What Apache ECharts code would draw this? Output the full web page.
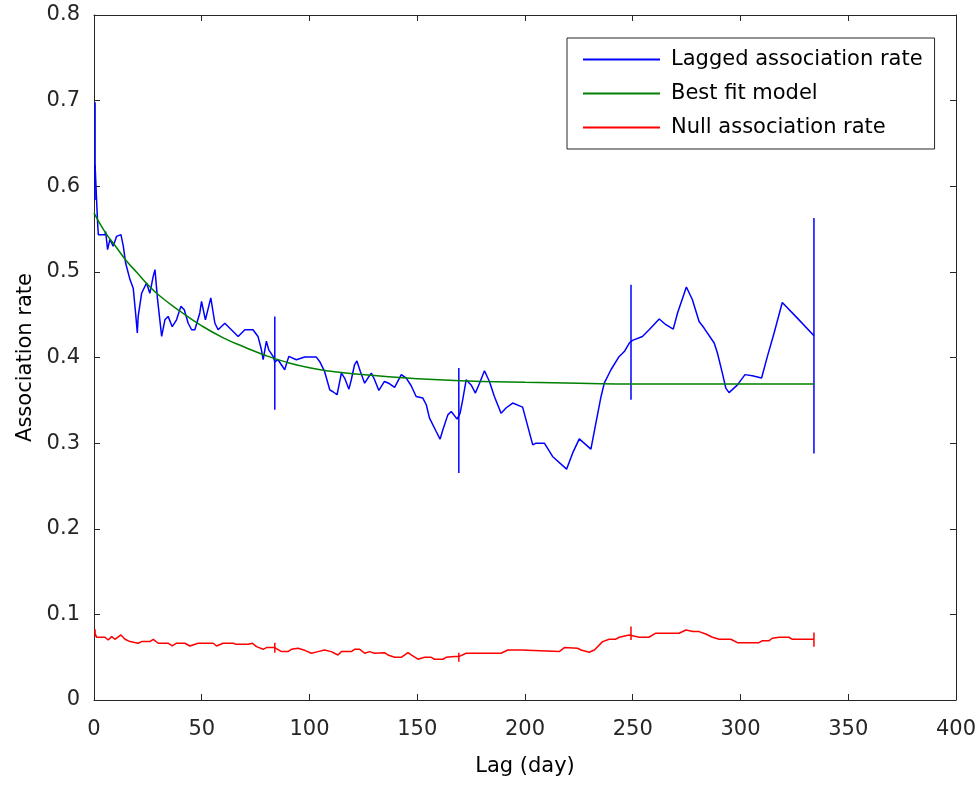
<!DOCTYPE html>
<html>
<head>
<meta charset="utf-8">
<script src="https://cdn.jsdelivr.net/npm/echarts@6/dist/echarts.min.js"></script>
<style>
html,body{margin:0;padding:0;background:#fff;}
#chart{width:979px;height:786px;}
</style>
</head>
<body>
<div id="chart"></div>
<script>
// Lagged association rate (blue)
const lagLags = [0.5,1.2,1.6,2.0,5.1,5.4,6.3,7.4,8.9,10.5,12.5,13.6,14.7,16.7,18.2,19.3,20.1,20.5,22.1,24.4,25.9,27.5,28.3,29.5,31.4,32.9,34.4,36.3,38.3,40.3,41.9,43.7,45.3,46.8,49.1,49.9,51.7,53.8,54.2,56.1,57.6,60.7,66.9,70.0,73.8,76.1,77.7,78.5,80.0,81.1,83.1,83.9,85.4,88.5,90.4,93.9,97.8,103.2,104.7,107.0,109.4,110.9,112.8,114.8,116.3,118.3,119.4,120.9,122.0,123.6,125.6,127.1,128.7,130.2,132.2,134.8,137.2,139.5,142.6,144.9,147.2,149.5,152.6,154.2,155.7,158.8,160.6,161.9,164.2,165.8,168.5,169.3,169.9,171.1,172.7,175.0,177.0,178.9,181.2,183.5,185.8,188.9,191.2,194.3,198.9,201.3,203.6,205.1,209.0,212.8,219.3,222.1,225.2,230.6,232.9,235.3,236.8,239.9,243.5,246.1,248.4,249.9,254.5,257.6,262.3,265.4,268.8,270.8,274.9,277.7,280.8,283.1,287.8,289.3,291.6,293.2,294.7,298.6,302.1,305.5,309.8,312.5,315.6,319.4,326.4,334.1];
const lagRates = [0.625,0.584,0.561,0.5435,0.5435,0.547,0.526,0.538,0.530,0.5415,0.5435,0.530,0.510,0.491,0.481,0.452,0.4286,0.448,0.475,0.487,0.475,0.495,0.5026,0.4675,0.4246,0.444,0.448,0.436,0.444,0.4597,0.4558,0.440,0.4324,0.4324,0.452,0.4655,0.444,0.4655,0.4695,0.440,0.4324,0.440,0.4246,0.4324,0.4324,0.4246,0.409,0.3974,0.419,0.409,0.4013,0.395,0.3974,0.3857,0.4013,0.3974,0.4005,0.4005,0.3954,0.3837,0.3623,0.360,0.3565,0.3818,0.376,0.363,0.374,0.3915,0.396,0.3837,0.370,0.376,0.3818,0.374,0.3615,0.372,0.3693,0.365,0.3799,0.376,0.367,0.3545,0.3526,0.3448,0.3292,0.3136,0.3047,0.3156,0.333,0.337,0.328,0.330,0.335,0.3506,0.374,0.368,0.3585,0.370,0.3845,0.372,0.3545,0.335,0.341,0.3468,0.342,0.3195,0.298,0.300,0.300,0.2844,0.2696,0.2883,0.305,0.293,0.3234,0.3545,0.370,0.3857,0.4005,0.407,0.4169,0.420,0.4246,0.4324,0.445,0.4383,0.4332,0.452,0.4823,0.4675,0.442,0.4344,0.4169,0.4052,0.3818,0.3643,0.359,0.368,0.380,0.3787,0.376,0.4013,0.4286,0.4643,0.446,0.4254];

// Best fit model (green)
const fitLags = [0,5,10,15,20,25,30,40,50,60,70,80,90,100,110,120,140,160,180,200,225,250,300,334.1];
const fitRates = [0.569,0.547,0.530,0.513,0.499,0.485,0.473,0.454,0.437,0.423,0.412,0.402,0.394,0.388,0.384,0.381,0.377,0.374,0.372,0.371,0.370,0.369,0.369,0.369];

// Null association rate (red)
const nullLags = [0.5,1.2,5.1,6.6,8.2,9.7,12.5,14.4,16.7,20.5,22.1,25.9,27.5,29.8,34.4,36.3,38.3,42.2,44.5,48.3,55.3,56.9,59.9,64.6,66.0,71.5,73.5,75.4,78.5,80.0,83.9,87.0,90.0,91.6,94.7,97.8,100.9,103.9,107.0,110.1,113.2,114.8,119.4,120.9,123.3,125.6,127.9,130.2,134.8,136.4,139.5,142.6,145.7,147.2,150.3,153.4,156.5,158.0,161.9,163.4,167.3,169.3,172.7,188.9,192.0,198.2,198.9,215.9,218.3,224.4,226.0,229.8,232.2,236.0,239.1,242.0,243.7,248.4,253.0,257.5,260.7,271.5,274.7,278.0,280.8,283.9,287.0,290.1,295.5,298.6,308.6,310.2,313.3,314.8,317.9,322.5,324.1,334.1];
const nullRates = [0.078,0.0733,0.0733,0.0701,0.074,0.0709,0.076,0.0709,0.0682,0.0663,0.0682,0.0682,0.0709,0.0663,0.0663,0.0631,0.0663,0.0663,0.0631,0.0663,0.0663,0.0631,0.0663,0.0663,0.065,0.065,0.0663,0.0623,0.0592,0.0612,0.0612,0.0565,0.0565,0.0592,0.0604,0.058,0.0546,0.0565,0.0584,0.0565,0.0526,0.0565,0.0565,0.0592,0.0592,0.0546,0.0565,0.0546,0.0553,0.0526,0.0499,0.0499,0.0553,0.0526,0.0476,0.0499,0.0499,0.0476,0.0476,0.0499,0.0507,0.0507,0.0546,0.0546,0.0584,0.0584,0.0565,0.0565,0.0612,0.0604,0.0584,0.0557,0.0584,0.0682,0.0709,0.0709,0.0733,0.076,0.0733,0.0733,0.078,0.078,0.0818,0.0799,0.0799,0.0771,0.0733,0.0709,0.0709,0.067,0.067,0.0693,0.0693,0.0721,0.0733,0.0733,0.0709,0.0709];

// Error bars (jackknife)
const errLags = [0.5,83.9,169.3,249.2,334.1];
const lagErrLow = [0.584,0.339,0.265,0.3506,0.288];
const lagErrHigh = [0.698,0.448,0.3877,0.485,0.563];
const nullErrLow = [0.074,0.0553,0.0448,0.0701,0.0623];
const nullErrHigh = [0.0826,0.067,0.0553,0.0857,0.0787];

const seriesNames = ['Lagged association rate','Best fit model','Null association rate'];
const xTicks = [0,50,100,150,200,250,300,350,400];
const yTicks = [0,0.1,0.2,0.3,0.4,0.5,0.6,0.7,0.8];

const zip = (a,b) => a.map((v,i)=>[v,b[i]]);
const zip3 = (a,b,c) => a.map((v,i)=>[v,b[i],c[i]]);

const FONT = '"DejaVu Sans", sans-serif';
const FS = 21;
const AX = '#262626';

function errRender(color){
  return function(params, api){
    const p1 = api.coord([api.value(0), api.value(1)]);
    const p2 = api.coord([api.value(0), api.value(2)]);
    return {type:'line', shape:{x1:p1[0],y1:p1[1],x2:p2[0],y2:p2[1]}, style:{stroke:color, lineWidth:1.5}};
  };
}

const axisCommon = {
  min: 0,
  axisLine:{show:true, onZero:false, lineStyle:{color:AX, width:1}},
  axisTick:{show:true, inside:true, length:6, lineStyle:{color:AX}},
  splitLine:{show:false}
};

const chart = echarts.init(document.getElementById('chart'), null, {renderer:'canvas'});
chart.setOption({
  animation:false,
  backgroundColor:'#fff',
  grid:{left:94, right:21, top:15, bottom:86, show:false},
  legend:{
    data: seriesNames,
    orient:'vertical',
    left:567, top:38,
    padding:[11,12,11,16],
    itemGap: 13,
    itemWidth:77, itemHeight:2,
    icon:'rect',
    borderColor:'#262626', borderWidth:1,
    backgroundColor:'#fff',
    textStyle:{fontFamily:FONT, fontSize:FS, color:'#000', padding:[0,0,0,6]}
  },
  xAxis:[
    Object.assign({}, axisCommon, {type:'value', max:400, interval:50, position:'bottom',
      name:'Lag (day)', nameLocation:'middle', nameGap:56,
      nameTextStyle:{fontFamily:FONT, fontSize:FS, color:'#000'},
      axisLabel:{fontFamily:FONT, fontSize:FS, color:AX, margin:19}}),
    Object.assign({}, axisCommon, {type:'value', max:400, interval:50, position:'top',
      axisLabel:{show:false}})
  ],
  yAxis:[
    Object.assign({}, axisCommon, {type:'value', max:0.8, interval:0.1, position:'left',
      name:'Association rate', nameLocation:'middle', nameGap:58,
      nameTextStyle:{fontFamily:FONT, fontSize:FS, color:'#000'},
      axisLabel:{fontFamily:FONT, fontSize:FS, color:AX, margin:14, padding:[6,0,0,0],
        formatter:v=> (Math.abs(v)<1e-9 ? '0' : String(Math.round(v*10)/10))}}),
    Object.assign({}, axisCommon, {type:'value', max:0.8, interval:0.1, position:'right',
      axisLabel:{show:false}})
  ],
  series:[
    {name:seriesNames[0], type:'line', data:zip(lagLags,lagRates), showSymbol:false, symbol:'none',
      lineStyle:{color:'#0000ff', width:1.5}, itemStyle:{color:'#0000ff'}, z:3},
    {name:seriesNames[1], type:'line', data:zip(fitLags,fitRates), showSymbol:false, symbol:'none', smooth:true,
      lineStyle:{color:'#008000', width:1.5}, itemStyle:{color:'#008000'}, z:4},
    {name:seriesNames[2], type:'line', data:zip(nullLags,nullRates), showSymbol:false, symbol:'none',
      lineStyle:{color:'#ff0000', width:1.5}, itemStyle:{color:'#ff0000'}, z:3},
    {name:'lagErr', type:'custom', data:zip3(errLags,lagErrLow,lagErrHigh), renderItem:errRender('#0000ff'),
      encode:{x:0, y:[1,2]}, z:3, silent:true},
    {name:'nullErr', type:'custom', data:zip3(errLags,nullErrLow,nullErrHigh), renderItem:errRender('#ff0000'),
      encode:{x:0, y:[1,2]}, z:3, silent:true}
  ]
});
</script>
</body>
</html>
